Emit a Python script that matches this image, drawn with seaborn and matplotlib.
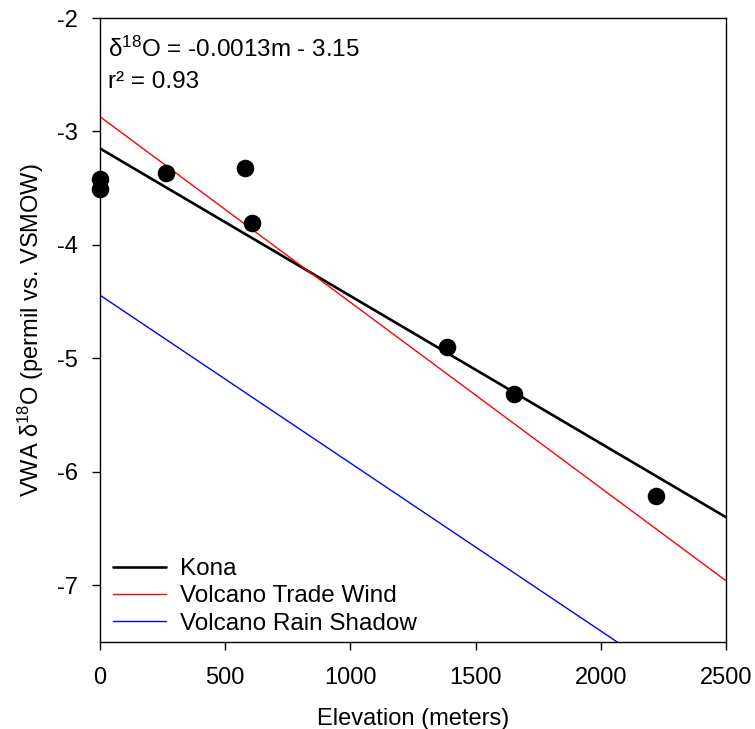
import numpy as np
import pandas as pd
import matplotlib
matplotlib.use("Agg")
import matplotlib.pyplot as plt
import seaborn as sns

# Data
elevation = [0, 0, 265, 578, 605, 1385, 1655, 2220]
d18o = [-3.42, -3.51, -3.37, -3.32, -3.81, -4.90, -5.31, -6.21]

line_names = ["Kona", "Volcano Trade Wind", "Volcano Rain Shadow"]
line_slopes = [-0.0013, -0.001636, -0.00148]
line_intercepts = [-3.15, -2.87, -4.443]
line_colors = ["black", "red", "blue"]
line_widths = [1.9, 1.0, 1.0]

x_ticks = [0, 500, 1000, 1500, 2000, 2500]
y_ticks = [-2, -3, -4, -5, -6, -7]

sns.set_theme(style="white")
plt.rcParams["font.family"] = ["Liberation Sans", "DejaVu Sans"]
plt.rcParams["mathtext.fontset"] = "custom"
plt.rcParams["mathtext.rm"] = "Liberation Sans"
plt.rcParams["mathtext.it"] = "Liberation Serif:italic"
plt.rcParams["mathtext.default"] = "regular"
plt.rcParams["text.color"] = "black"

fig = plt.figure(figsize=(7.55, 7.29), dpi=100)
ax = fig.add_axes([0.1325, 0.1193, 0.9616 - 0.1325, 0.9753 - 0.1193])

xline = np.linspace(0, 2500, 200)
for name, m, b, c, lw in zip(line_names, line_slopes, line_intercepts, line_colors, line_widths):
    df = pd.DataFrame({"x": xline, "y": m * xline + b})
    sns.lineplot(data=df, x="x", y="y", color=c, linewidth=lw, label=name, ax=ax)

pts = pd.DataFrame({"elev": elevation, "d18o": d18o})
sns.scatterplot(data=pts, x="elev", y="d18o", color="black", s=160, edgecolor="black",
                linewidth=0, ax=ax, clip_on=False, zorder=5)

ax.set_xlim(0, 2500)
ax.set_ylim(-7.5, -2)
ax.set_xticks(x_ticks)
ax.set_yticks(y_ticks)
ax.set_yticklabels([str(t) for t in y_ticks])
ax.tick_params(axis="both", direction="out", length=6, width=1, labelsize=17, colors="black",
               left=True, bottom=True)
ax.tick_params(axis="x", pad=12)
ax.tick_params(axis="y", pad=10)
for sp in ax.spines.values():
    sp.set_color("black")
    sp.set_linewidth(1.0)

ax.set_xlabel("Elevation (meters)", fontsize=17, labelpad=14, color="black")
ax.set_ylabel(r"VWA $\delta^{18}$O (permil vs. VSMOW)", fontsize=17, labelpad=8, color="black")

ax.text(0.012, 0.97, r"$\delta^{18}$O = -0.0013m - 3.15", transform=ax.transAxes,
        fontsize=17.5, va="top", ha="left", color="black")
ax.text(0.012, 0.915, "r² = 0.93", transform=ax.transAxes,
        fontsize=17.5, va="top", ha="left", color="black")

leg = ax.legend(loc="lower left", frameon=False, fontsize=17.5, handlelength=2.2,
                handletextpad=0.55, labelspacing=0.22, borderaxespad=0.0,
                borderpad=0.3, bbox_to_anchor=(0.009, 0.0))
for t in leg.get_texts():
    t.set_color("black")

fig.savefig("out.png", dpi=100)
